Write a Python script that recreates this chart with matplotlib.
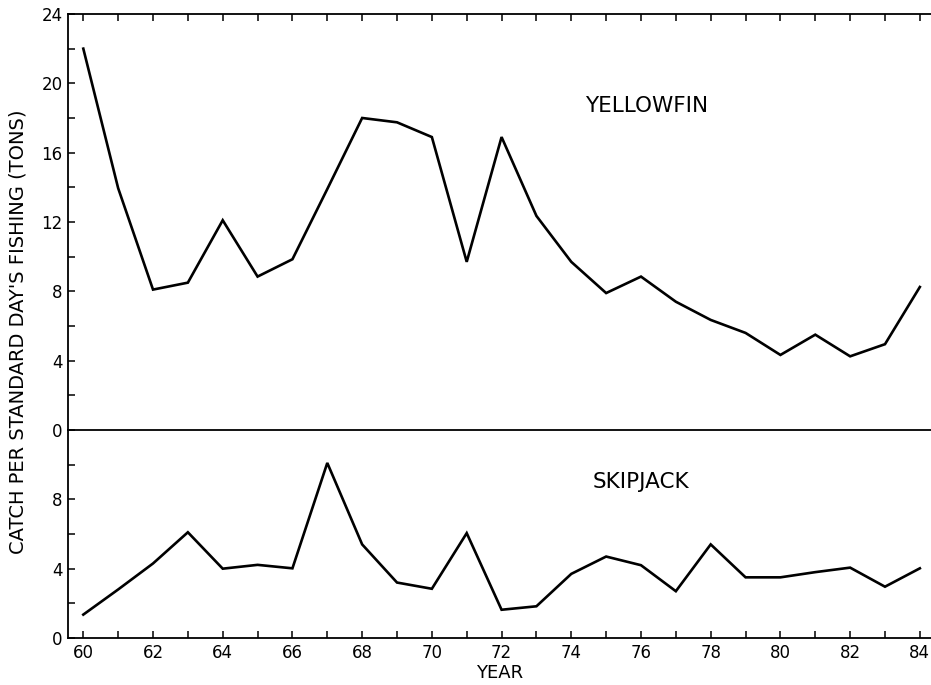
import numpy as np
import matplotlib
matplotlib.use('Agg')
import matplotlib.pyplot as plt

# catch per standard day's fishing (tons), 1960-1984
years = list(range(60, 85))
yellowfin = [22.0, 13.95, 8.1, 8.5, 12.1, 8.85, 9.85, 13.9, 18.0, 17.75, 16.9, 9.7,
             16.9, 12.35, 9.7, 7.9, 8.85, 7.4, 6.35, 5.6, 4.33, 5.5, 4.25, 4.95, 8.25]
skipjack = [1.35, 2.8, 4.3, 6.1, 4.0, 4.22, 4.02, 10.1, 5.4, 3.2, 2.84, 6.05,
            1.63, 1.83, 3.7, 4.7, 4.2, 2.7, 5.4, 3.5, 3.5, 3.8, 4.06, 2.96, 4.02]

year_labels = [str(y) for y in range(60, 85, 2)]

plt.rcParams['font.family'] = 'DejaVu Sans'

fig = plt.figure(figsize=(9.31, 6.85), dpi=100)
gs = fig.add_gridspec(2, 1, height_ratios=[2, 1], hspace=0,
                      left=0.073, right=1.0, top=0.9796, bottom=0.0686)
ax1 = fig.add_subplot(gs[0])
ax2 = fig.add_subplot(gs[1], sharex=ax1)
ax2.patch.set_visible(False)

lw = 1.9
ax1.plot(years, yellowfin, color='black', lw=lw, solid_joinstyle='miter')
ax2.plot(years, skipjack, color='black', lw=lw, solid_joinstyle='miter')

ax1.set_xlim(59.56, 84.32)
ax1.set_ylim(0, 24)
ax2.set_ylim(0, 12)

for ax in (ax1, ax2):
    ax.spines['right'].set_visible(False)
    for s in ('left', 'top', 'bottom'):
        ax.spines[s].set_linewidth(1.3)
    ax.tick_params(direction='in', length=5, width=1.1, labelsize=12, pad=4)
    ax.tick_params(which='minor', direction='in', length=5, width=1.1)

# top panel: year ticks along the top edge only
ax1.set_yticks(range(0, 25, 4))
ax1.set_yticks(range(2, 24, 4), minor=True)
ax1.tick_params(axis='x', which='both', bottom=False, top=True, labelbottom=False, labeltop=False)
ax1.tick_params(axis='y', which='both', left=True, right=False)
ax1.set_xticks(range(60, 85, 1))

# bottom panel
ax2.set_yticks([0, 4, 8])
ax2.set_yticks([2, 6, 10], minor=True)
ax2.set_xticks(range(60, 85, 2))
ax2.set_xticks(range(61, 85, 2), minor=True)
ax2.set_xticklabels(year_labels)
ax2.tick_params(axis='x', which='both', bottom=True, top=False)
ax2.spines['top'].set_visible(False)

ax1.text(76.17, 18.7, 'YELLOWFIN', fontsize=15.5, ha='center', va='center')
ax2.text(76.0, 9.0, 'SKIPJACK', fontsize=15.5, ha='center', va='center')

ax2.set_xlabel('YEAR', fontsize=13, labelpad=2)
fig.text(0.019, 0.515, "CATCH PER STANDARD DAY'S FISHING (TONS)", rotation=90,
         fontsize=14, ha='center', va='center')

fig.savefig('out.png', dpi=100)
